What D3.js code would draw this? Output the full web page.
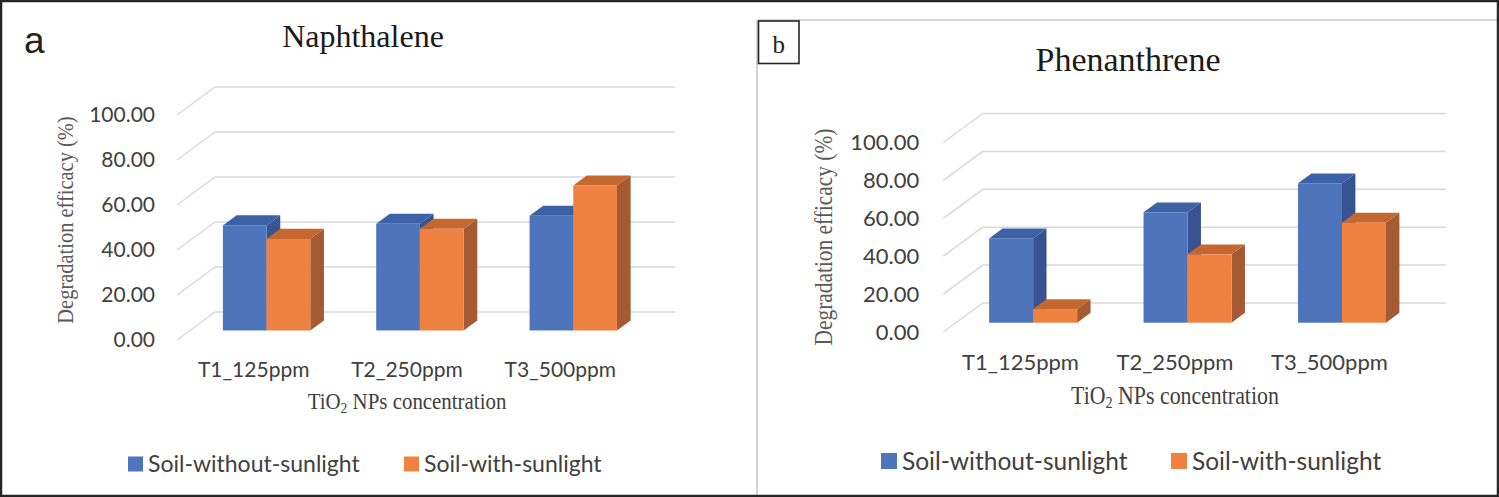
<!DOCTYPE html>
<html>
<head>
<meta charset="utf-8">
<script src="https://cdn.jsdelivr.net/npm/d3@7"></script>
<style>
  html, body { margin: 0; padding: 0; background: #fff; }
  svg { display: block; }
</style>
</head>
<body>
<svg id="chart" width="1499" height="497"></svg>
<script>
// data
var categories = ["T1_125ppm", "T2_250ppm", "T3_500ppm"];
var seriesNames = ["Soil-without-sunlight", "Soil-with-sunlight"];
var naphWithout = [46.7, 47.4, 51.0];
var naphWith = [40.7, 45.2, 64.4];
var phenWithout = [44.5, 58.3, 73.6];
var phenWith = [7.2, 36.1, 52.8];
var yTicks = [0, 20, 40, 60, 80, 100];

// colours for front / top / side faces
var faces = {
  "Soil-without-sunlight": {front: "#4e74bb", top: "#3d61a6", side: "#375491"},
  "Soil-with-sunlight":    {front: "#ef8240", top: "#c4682f", side: "#a45b33"}
};

var sans = "Lato, 'Open Sans', sans-serif",
    serif = "'Liberation Serif', 'Times New Roman', serif";

var svg = d3.select("#chart");

// inner frame of panel b
svg.append("line").attr("x1", 757).attr("x2", 757).attr("y1", 20).attr("y2", 497)
  .attr("stroke", "#d4d4d4").attr("stroke-width", 2);
svg.append("line").attr("x1", 757).attr("x2", 1499).attr("y1", 20).attr("y2", 20)
  .attr("stroke", "#d4d4d4").attr("stroke-width", 2);

function drawPanel(cfg, withoutVals, withVals) {
  var g = svg.append("g");
  var DX = cfg.depth[0], DY = cfg.depth[1];

  var x = d3.scaleBand().domain(categories)
      .range([cfg.x0, cfg.x1]).paddingInner(0.43).paddingOuter(0.215);
  var xs = d3.scaleBand().domain(seriesNames).range([0, x.bandwidth()]);
  var y = d3.scaleLinear().domain([0, 100]).range([cfg.yBase, cfg.yTop]);

  // gridlines: back wall + side wall diagonals
  var grid = g.append("g").attr("stroke", "#d9d9d9").attr("stroke-width", 1.5).attr("fill", "none");
  grid.selectAll(".back").data(yTicks).enter().append("line")
    .attr("x1", cfg.x0 + DX).attr("x2", cfg.x1 + DX)
    .attr("y1", function (d) { return y(d) + DY; })
    .attr("y2", function (d) { return y(d) + DY; });
  grid.selectAll(".diag").data(yTicks).enter().append("line")
    .attr("x1", cfg.x0).attr("x2", cfg.x0 + DX)
    .attr("y1", function (d) { return y(d); })
    .attr("y2", function (d) { return y(d) + DY; });

  // tick labels
  g.selectAll(".ytick").data(yTicks).enter().append("text")
    .attr("x", cfg.x0 - cfg.labelGap).attr("y", function (d) { return y(d); })
    .attr("dy", "0.35em").attr("text-anchor", "end")
    .attr("font-family", sans).attr("font-size", cfg.tickSize).attr("fill", "#404040")
    .text(function (d) { return d3.format(".2f")(d); });

  g.selectAll(".xtick").data(categories).enter().append("text")
    .attr("x", function (d) { return x(d) + x.bandwidth() / 2; })
    .attr("y", cfg.xTickY).attr("dy", "0.35em").attr("text-anchor", "middle")
    .attr("font-family", sans).attr("font-size", cfg.tickSize).attr("fill", "#404040")
    .text(function (d) { return d; });

  // bars
  var d0 = cfg.d0, bd = cfg.d1 - cfg.d0;
  var bdx = bd * DX, bdy = bd * DY;
  var rows = [];
  categories.forEach(function (c, i) {
    rows.push({cat: c, s: seriesNames[0], v: withoutVals[i]});
    rows.push({cat: c, s: seriesNames[1], v: withVals[i]});
  });

  var bars = g.selectAll(".bar").data(rows).enter().append("g").attr("class", "bar");
  bars.each(function (d) {
    var b = d3.select(this);
    var w = xs.bandwidth();
    var fx = x(d.cat) + xs(d.s) + d0 * DX;
    var fy = y(d.v) + d0 * DY;
    var bottom = y(0) + d0 * DY;
    var col = faces[d.s];
    b.append("polygon")
      .attr("points", [[fx + w, fy], [fx + w + bdx, fy + bdy], [fx + w + bdx, bottom + bdy], [fx + w, bottom]].join(" "))
      .attr("fill", col.side);
    b.append("polygon")
      .attr("points", [[fx, fy], [fx + w, fy], [fx + w + bdx, fy + bdy], [fx + bdx, fy + bdy]].join(" "))
      .attr("fill", col.top);
    b.append("rect").attr("x", fx).attr("y", fy)
      .attr("width", w).attr("height", bottom - fy).attr("fill", col.front);
  });

  // titles
  g.append("text").attr("x", cfg.titleX).attr("y", cfg.titleY)
    .attr("text-anchor", "middle").attr("font-family", serif)
    .attr("font-size", cfg.titleSize).attr("fill", "#1a1a1a").text(cfg.title);

  g.append("text")
    .attr("transform", "translate(" + cfg.yTitle[0] + "," + cfg.yTitle[1] + ") rotate(-90) scale(0.93,1.05)")
    .attr("text-anchor", "middle").attr("font-family", serif)
    .attr("font-size", cfg.axisTitleSize).attr("fill", "#595959")
    .text("Degradation efficacy (%)");

  var xt = g.append("text")
    .attr("transform", "translate(" + (cfg.x0 + cfg.x1) / 2 + "," + cfg.xTitleY + ") scale(0.95,1.05)")
    .attr("text-anchor", "middle").attr("font-family", serif)
    .attr("font-size", cfg.axisTitleSize).attr("fill", "#404040");
  xt.append("tspan").text("TiO");
  xt.append("tspan").attr("font-size", cfg.axisTitleSize * 0.65).attr("dy", 4).text("2");
  xt.append("tspan").attr("dy", -4).text(" NPs concentration");

  // legend
  var leg = g.selectAll(".leg").data(seriesNames).enter().append("g")
    .attr("transform", function (d, i) { return "translate(" + cfg.legendX[i] + "," + cfg.legendY + ")"; });
  leg.append("rect").attr("x", 0).attr("y", -cfg.legendBox / 2)
    .attr("width", cfg.legendBox).attr("height", cfg.legendBox)
    .attr("fill", function (d) { return faces[d].front; });
  leg.append("text").attr("x", cfg.legendBox + 5).attr("y", 0).attr("dy", "0.35em")
    .attr("font-family", sans).attr("font-size", cfg.legendSize).attr("fill", "#404040")
    .text(function (d) { return d; });

  return g;
}

drawPanel({
  title: "Naphthalene", titleX: 363, titleY: 47, titleSize: 32,
  x0: 177, x1: 637, yBase: 340, yTop: 115, depth: [38, -28], d0: 0.34, d1: 0.70,
  labelGap: 22, tickSize: 21, xTickY: 370, xTitleY: 409, axisTitleSize: 22,
  yTitle: [73, 220],
  legendX: [128, 404], legendY: 464, legendBox: 15, legendSize: 23
}, naphWithout, naphWith);

drawPanel({
  title: "Phenanthrene", titleX: 1128, titleY: 71, titleSize: 34,
  x0: 943.3, x1: 1406.6, yBase: 332, yTop: 142.5, depth: [39.4, -29], d0: 0.32, d1: 0.66,
  labelGap: 24, tickSize: 22, xTickY: 362, xTitleY: 404, axisTitleSize: 23,
  yTitle: [832, 237],
  legendX: [881, 1171], legendY: 461, legendBox: 16, legendSize: 24.5
}, phenWithout, phenWith);

// panel tags
svg.append("text").attr("x", 24).attr("y", 53)
  .attr("font-family", "'Liberation Sans', Arial, sans-serif").attr("font-size", 37)
  .attr("fill", "#222").text("a");
svg.append("rect").attr("x", 758.5).attr("y", 21).attr("width", 40.5).attr("height", 42.5)
  .attr("fill", "#fff").attr("stroke", "#262626").attr("stroke-width", 1.6);
svg.append("text").attr("x", 778.7).attr("y", 53).attr("text-anchor", "middle")
  .attr("font-family", serif).attr("font-size", 25).attr("fill", "#222").text("b");

// outer frame
svg.append("rect").attr("x", 1).attr("y", 1).attr("width", 1497).attr("height", 495)
  .attr("fill", "none").attr("stroke", "#262626").attr("stroke-width", 2.5);
</script>
</body>
</html>
